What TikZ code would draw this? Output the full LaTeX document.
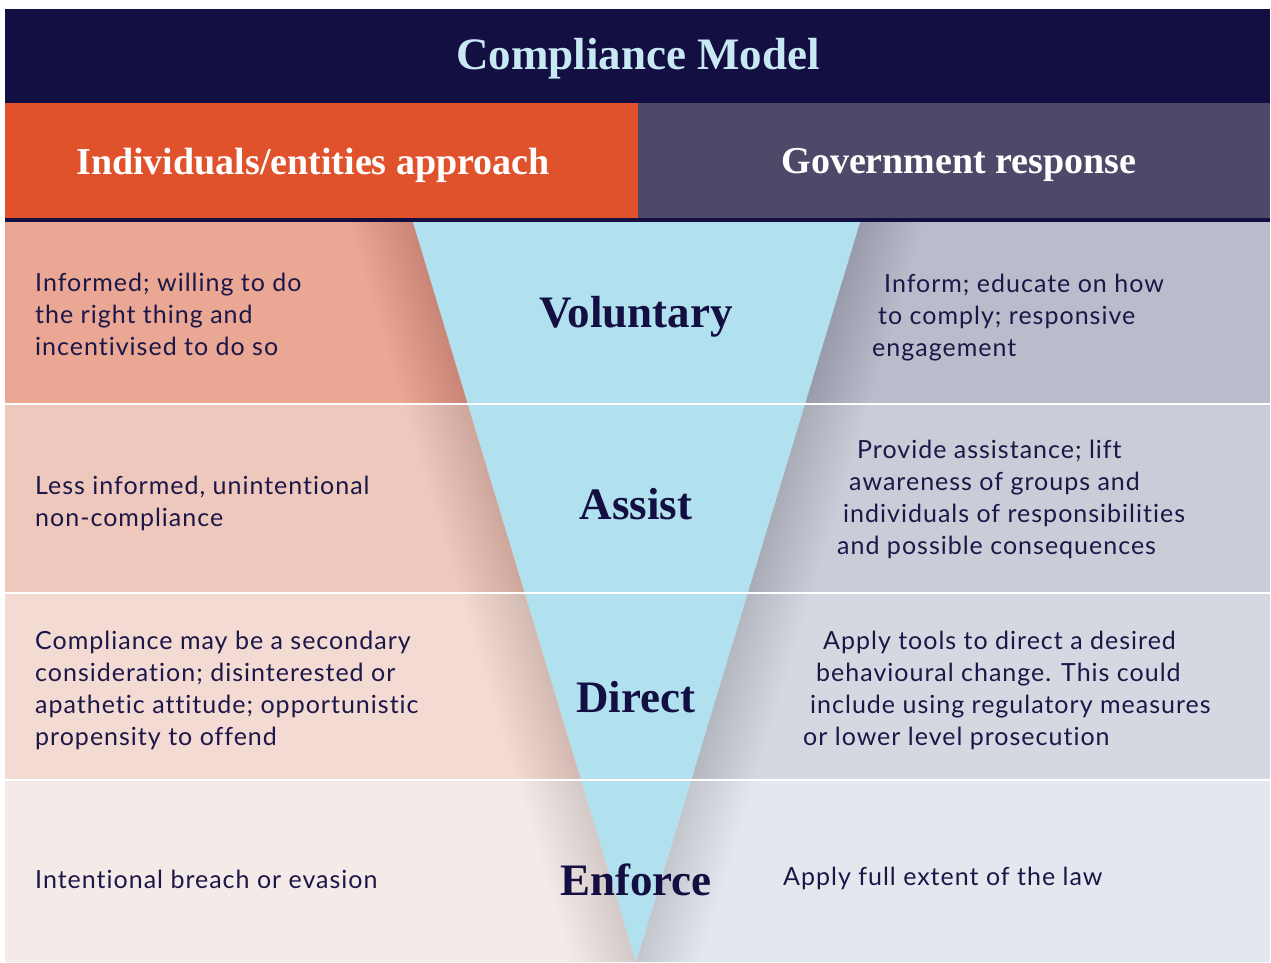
\documentclass[tikz,border=0pt]{standalone}
\usepackage{fontspec}
\setmainfont{Lato}[LetterSpace=4,Ligatures=NoCommon]
\newfontfamily\serifhead{Liberation Serif}
\definecolor{navy}{HTML}{130F42}
\definecolor{titleblue}{HTML}{C8E9F3}
\definecolor{orangehead}{HTML}{DF522C}
\definecolor{purplehead}{HTML}{4E4869}
\definecolor{funnel}{HTML}{B1E1EE}
\definecolor{bodytext}{HTML}{1B1748}
\definecolor{leftA}{HTML}{EAA793}
\definecolor{leftB}{HTML}{EFC8BD}
\definecolor{leftC}{HTML}{F3DAD3}
\definecolor{leftD}{HTML}{F4EAE8}
\definecolor{rightA}{HTML}{BBBCCB}
\definecolor{rightB}{HTML}{CACCD8}
\definecolor{rightC}{HTML}{D5D8E1}
\definecolor{rightD}{HTML}{E4E8EE}
\tikzset{
  bodyline/.style={anchor=base west, inner sep=0pt, text=bodytext, font=\fontsize{25}{32}\selectfont},
  levelname/.style={text=navy, font=\serifhead\bfseries\fontsize{45}{50}\selectfont},
  headname/.style={text=white, font=\serifhead\bfseries\fontsize{38}{44}\selectfont}
}
\begin{document}
\begin{tikzpicture}[x=1pt,y=-1pt]
    \useasboundingbox (0,0) rectangle (1271,962);
    % banner and headers
    \fill [navy] (5,9) rectangle (1270,222);
    \fill [orangehead] (5,103) rectangle (638,218);
    \fill [purplehead] (638,103) rectangle (1270,218);
    \node [text=titleblue, font=\serifhead\bfseries\fontsize{45}{50}\selectfont] (title) at (638,59) {Compliance Model};
    \node [headname] (approach) at (313,165) {Individuals/entities approach};
    \node [headname] (response) at (959,165) {Government response};
    % rows
    \fill [leftA] (5,222) rectangle (636,404);
    \fill [leftB] (5,404) rectangle (636,593);
    \fill [leftC] (5,593) rectangle (636,780);
    \fill [leftD] (5,780) rectangle (636,962);
    \fill [rightA] (636,222) rectangle (1270,404);
    \fill [rightB] (636,404) rectangle (1270,593);
    \fill [rightC] (636,593) rectangle (1270,780);
    \fill [rightD] (636,780) rectangle (1270,962);
    % soft shadow along the funnel
    \foreach \w in {4,8,...,64} {
        \fill [black, opacity=0.006] (413-\w,222)--(413,222)--(636,962)--(636-\w,962)--cycle;
        \fill [black, opacity=0.006] (860,222)--(860+\w,222)--(636+\w,962)--(636,962)--cycle;
    }
    \fill [funnel] (413,222)--(860,222)--(636,962)--cycle;
    % separators
    \draw [white, line width=2.5] (5,404)--(1270,404);
    \draw [white, line width=2.5] (5,593)--(1270,593);
    \draw [white, line width=2.5] (5,780)--(1270,780);
    % levels
    \node [levelname] (voluntary) at (636,317) {Voluntary};
    \node [levelname] (assist) at (636,504) {Assist};
    \node [levelname] (direct) at (636,697) {Direct};
    \node [levelname] (enforce) at (636,880) {Enforce};
    % individuals/entities
    \node [bodyline] (l1a) at (35,291) {Informed; willing to do};
    \node [bodyline] (l1b) at (35,323) {the right thing and};
    \node [bodyline] (l1c) at (35,355) {incentivised to do so};
    \node [bodyline] (l2a) at (35,494) {Less informed, unintentional};
    \node [bodyline] (l2b) at (35,526) {non-compliance};
    \node [bodyline] (l3a) at (35,649) {Compliance may be a secondary};
    \node [bodyline] (l3b) at (35,681) {consideration; disinterested or};
    \node [bodyline] (l3c) at (35,713) {apathetic attitude; opportunistic};
    \node [bodyline] (l3d) at (35,745) {propensity to offend};
    \node [bodyline] (l4a) at (35,888) {Intentional breach or evasion};
    % government
    \node [bodyline] (r1a) at (884,292) {Inform; educate on how};
    \node [bodyline] (r1b) at (878,324) {to comply; responsive};
    \node [bodyline] (r1c) at (872,356) {engagement};
    \node [bodyline] (r2a) at (857,458) {Provide assistance; lift};
    \node [bodyline] (r2b) at (849,490) {awareness of groups and};
    \node [bodyline] (r2c) at (843,522) {individuals of responsibilities};
    \node [bodyline] (r2d) at (837,554) {and possible consequences};
    \node [bodyline] (r3a) at (823,649) {Apply tools to direct a desired};
    \node [bodyline] (r3b) at (816,681) {behavioural change. This could};
    \node [bodyline] (r3c) at (810,713) {include using regulatory measures};
    \node [bodyline] (r3d) at (803,745) {or lower level prosecution};
    \node [bodyline] (r4a) at (783,885) {Apply full extent of the law};
\end{tikzpicture}
\end{document}
